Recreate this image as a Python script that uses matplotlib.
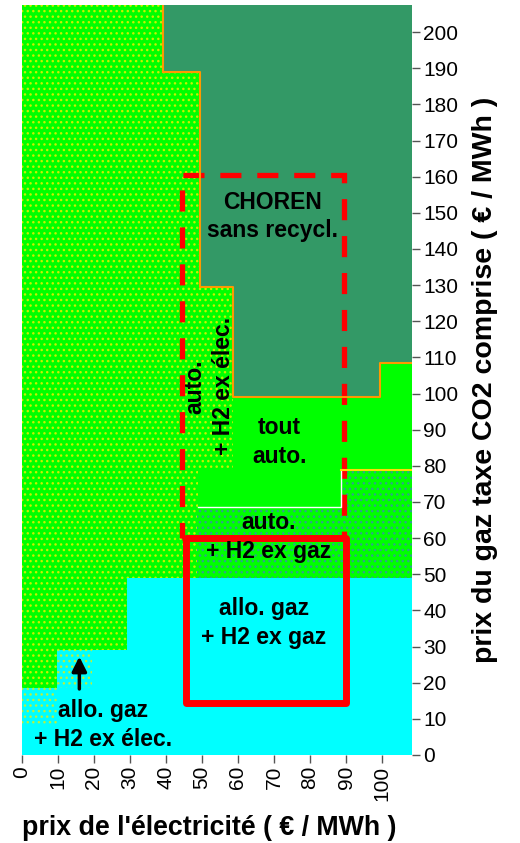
import matplotlib.pyplot as plt
from matplotlib.patches import Rectangle

plt.rcParams['font.family'] = ['Liberation Sans', 'DejaVu Sans']
plt.rcParams['hatch.linewidth'] = 1.0

x_max, y_max = 108.3, 207.5

# frontière basse de la zone CHOREN sans recyclage
choren_x = [39.2, 49.5, 58.7, 99.4, x_max]
choren_y = [189, 129.5, 99, 108.5, 108.5]

# zone "tout auto."
tout_x = [49, 58.7, 88.7, 99.4, x_max]
tout_bas = [68.7, 68.7, 78.8, 78.8, 78.8]
tout_haut = [79.4, 99, 99, 108.5, 108.5]

# zone "auto. + H2 ex gaz"
gaz_x = [48.7, 88.7, x_max]
gaz_bas = [49, 49, 49]
gaz_haut = [68.7, 78.8, 78.8]

# zone "allo. gaz" (cyan)
allo_x = [0, 9.7, 29.1, x_max]
allo_haut = [18.5, 29, 49, 49]

# petite zone de transition pointillée dans le cyan
trans_x = [0, 9.7, 19.5]
trans_bas = [8, 18.5, 18.5]
trans_haut = [18.5, 29, 29]

# cadres (x0, y0, x1, y1)
cadre_pointille = (44.6, 60, 89.5, 160.5)
cadre_plein = (45.7, 14.5, 90, 60)

x_ticks = list(range(0, 101, 10))
y_ticks = list(range(0, 201, 10))

fig = plt.figure(figsize=(5.2, 8.43), dpi=100)
ax = fig.add_axes([0.0417, 0.1044, 0.7506, 0.8897])

# fond : auto. + H2 ex élec. (vert pointillé)
ax.fill_between([0, x_max], 0, y_max, color='#00FF00', hatch='...',
                edgecolor='#C8F000', linewidth=0)
ax.fill_between(gaz_x, gaz_bas, gaz_haut, step='post', facecolor='#00FF00',
                hatch='...', edgecolor='#2FA58A', linewidth=0)
ax.fill_between(allo_x, 0, allo_haut, step='post', color='#00FFFF', linewidth=0)
ax.fill_between(trans_x, trans_bas, trans_haut, step='post', facecolor='#00FFFF',
                hatch='...', edgecolor='#B8F040', linewidth=0)
ax.fill_between(tout_x, tout_bas, tout_haut, step='post', color='#00FF00', linewidth=0)
ax.fill_between(choren_x, choren_y, y_max, step='post', color='#339966', linewidth=0)

# liserés aux frontières
ax.step(choren_x, choren_y, where='post', color='#FF9900', lw=1.5)
ax.plot([choren_x[0], choren_x[0]], [choren_y[0], y_max], color='#FF9900', lw=1.5)
ax.step(tout_x[:3], tout_bas[:3], where='post', color='white', lw=1)
ax.plot([tout_x[2], x_max], [tout_bas[2], tout_bas[2]], color='#FFE000', lw=1.5)

x0, y0, x1, y1 = cadre_pointille
ax.add_patch(Rectangle((x0, y0), x1 - x0, y1 - y0, fill=False, edgecolor='#FF0000',
                       lw=3.8, linestyle=(0, (4.0, 3.0))))
x0, y0, x1, y1 = cadre_plein
ax.add_patch(Rectangle((x0, y0), x1 - x0, y1 - y0, fill=False, edgecolor='#FF0000',
                       lw=5, joinstyle='round'))

ax.annotate('', xy=(16, 28), xytext=(16, 17.5),
            arrowprops=dict(arrowstyle='-|>', color='black', lw=2.5,
                            mutation_scale=22))

fs = 16.5
kw = dict(ha='center', va='center', fontsize=fs, fontweight='bold', linespacing=1.3)
ax.text(69.5, 149, 'CHOREN\nsans recycl.', **kw)
ax.text(71.6, 86.6, 'tout\nauto.', **kw)
ax.text(68.6, 60.3, 'auto.\n+ H2 ex gaz', **kw)
ax.text(67.2, 36.5, 'allo. gaz\n+ H2 ex gaz', **kw)
ax.text(22.6, 8.3, 'allo. gaz\n+ H2 ex élec.', **kw)
ax.text(52, 102, 'auto.\n+ H2 ex élec.', rotation=90, **kw)

ax.set_xlim(0, x_max)
ax.set_ylim(0, y_max)
for s in ax.spines.values():
    s.set_visible(False)

ax.set_xticks(x_ticks)
ax.set_xticklabels([str(v) for v in x_ticks], rotation=90, fontsize=15)
ax.yaxis.tick_right()
ax.yaxis.set_label_position('right')
ax.set_yticks(y_ticks)
ax.set_yticklabels([str(v) for v in y_ticks], fontsize=15)
ax.tick_params(axis='both', direction='out', length=6, width=1, color='#555555', pad=2)

ax.set_xlabel("prix de l'électricité ( € / MWh )", fontsize=19.3, fontweight='bold',
              labelpad=10)
ax.xaxis.label.set_x(0.48)
ax.set_ylabel('prix du gaz taxe CO2 comprise ( € / MWh )', fontsize=20.5,
              fontweight='bold', rotation=90, labelpad=10)

fig.savefig('out.png', dpi=100)
